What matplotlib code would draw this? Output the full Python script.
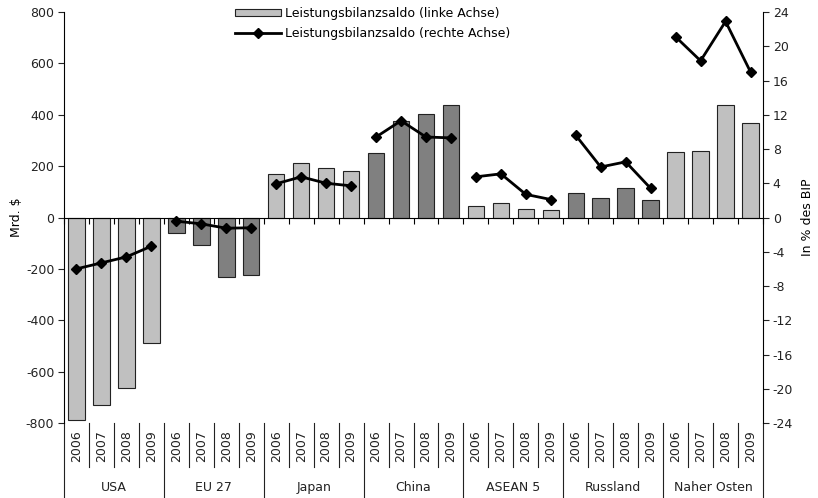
import numpy as np
import matplotlib
matplotlib.use("Agg")
import matplotlib.pyplot as plt
import matplotlib.transforms as mtransforms
from matplotlib.patches import Rectangle
from matplotlib.lines import Line2D

plt.rcParams['font.family'] = ['DejaVu Sans']
plt.rcParams['axes.unicode_minus'] = False

# Daten
regionen = ['USA', 'EU 27', 'Japan', 'China', 'ASEAN 5', 'Russland', 'Naher Osten']
jahre = ['2006', '2007', '2008', '2009']

saldo_mrd = {
    'USA':         [-790, -731, -665, -487],
    'EU 27':       [-60, -109, -232, -222],
    'Japan':       [171, 211, 193, 180],
    'China':       [250, 374, 401, 438],
    'ASEAN 5':     [44, 56, 34, 31],
    'Russland':    [96, 77, 116, 69],
    'Naher Osten': [256, 257, 438, 366],
}
saldo_bip = {
    'USA':         [-6.0, -5.3, -4.6, -3.35],
    'EU 27':       [-0.43, -0.74, -1.25, -1.2],
    'Japan':       [3.94, 4.75, 4.0, 3.7],
    'China':       [9.4, 11.3, 9.4, 9.3],
    'ASEAN 5':     [4.75, 5.1, 2.7, 2.1],
    'Russland':    [9.6, 5.9, 6.5, 3.4],
    'Naher Osten': [21.1, 18.3, 22.9, 17.0],
}
hell = '#c0c0c0'
dunkel = '#808080'
farben = [hell, dunkel, hell, dunkel, hell, dunkel, hell]

fig = plt.figure(figsize=(8.18, 4.98), dpi=100)
ax = fig.add_axes([64/818, 1 - 423/498, 699/818, 411/498])
ax2 = ax.twinx()

n = len(jahre)
for i, reg in enumerate(regionen):
    x = np.arange(n) + i*n
    ax.bar(x, saldo_mrd[reg], width=0.66, color=farben[i], edgecolor='#222222', linewidth=0.8, zorder=2)
    ax2.plot(x, saldo_bip[reg], color='black', lw=2, marker='D', ms=5.5, zorder=3)

gesamt = n*len(regionen)
ax.set_xlim(-0.5, gesamt - 0.5)
ax.set_ylim(-800, 800)
ax.set_yticks(np.arange(-800, 801, 200))
ax2.set_ylim(-24, 24)
ax2.set_yticks(np.arange(-24, 25, 4))

for a in (ax, ax2):
    a.spines['top'].set_visible(False)
    a.tick_params(axis='y', labelsize=9, colors='#222222', length=4, width=0.8, pad=3)
ax.spines['right'].set_visible(False)
ax2.spines['left'].set_visible(False)
ax2.spines['bottom'].set_visible(False)
ax.spines['bottom'].set_position(('data', 0))
ax.spines['left'].set_linewidth(0.8)
ax2.spines['right'].set_linewidth(0.8)

grenzen = np.arange(gesamt + 1) - 0.5
ax.set_xticks(grenzen)
ax.set_xticklabels([])
ax.tick_params(axis='x', length=4, width=0.8, direction='out')

ax.set_ylabel('Mrd. $', fontsize=9, labelpad=2)
ax2.set_ylabel('In % des BIP', fontsize=9, labelpad=6)

# Beschriftung unter dem Diagramm
trans = mtransforms.blended_transform_factory(ax.transData, ax.transAxes)
for k, g in enumerate(grenzen):
    if k % n == 0:
        ax.plot([g, g], [0, -0.1825], transform=trans, color='#222222', lw=0.8, clip_on=False)
    else:
        ax.plot([g, g], [0, -0.107], transform=trans, color='#222222', lw=0.8, clip_on=False)
for i, reg in enumerate(regionen):
    for j, jahr in enumerate(jahre):
        ax.text(i*n + j, -0.056, jahr, transform=trans, rotation=90, ha='center', va='center',
                fontsize=9, color='#222222')
    ax.text(i*n + (n - 1)/2, -0.158, reg, transform=trans, ha='center', va='center',
            fontsize=9, color='#222222')

handles = [Rectangle((0, 0), 1, 1, facecolor=hell, edgecolor='#222222', lw=0.8),
           Line2D([], [], color='black', lw=2, marker='D', ms=5.5)]
labels = ['Leistungsbilanzsaldo (linke Achse)', 'Leistungsbilanzsaldo (rechte Achse)']
fig.legend(handles, labels, loc='upper left', bbox_to_anchor=(224/818, 1.008), frameon=False,
           fontsize=9, handlelength=3.7, handleheight=0.45, handletextpad=0.35, labelspacing=0.55,
           borderpad=0.35)

fig.savefig('out.png', dpi=100)
